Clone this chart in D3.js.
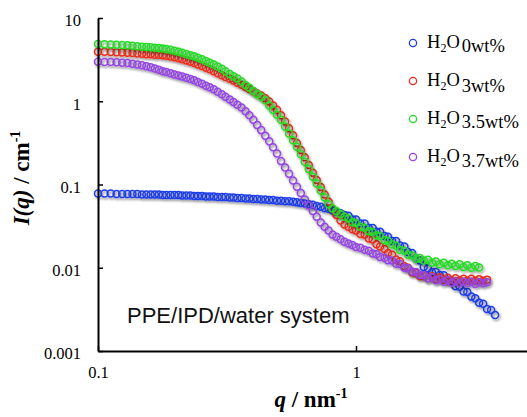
<!DOCTYPE html>
<html><head><meta charset="utf-8">
<script src="https://cdn.jsdelivr.net/npm/d3@7"></script>
<style>
html,body{margin:0;padding:0;background:#fff;}
svg{display:block;}
</style></head>
<body>
<svg id="chart" width="527" height="417"></svg>
<script>
// ---- data ----
const qValues = [
 0.100, 0.106, 0.112, 0.118, 0.124, 0.130, 0.136, 0.142, 0.148, 0.154,
 0.160, 0.166, 0.172, 0.178, 0.184, 0.191, 0.198, 0.205, 0.212, 0.220,
 0.228, 0.236, 0.244, 0.253, 0.262, 0.271, 0.281, 0.291, 0.302, 0.312,
 0.324, 0.335, 0.347, 0.360, 0.373, 0.386, 0.400, 0.414, 0.429, 0.445,
 0.461, 0.477, 0.494, 0.512, 0.531, 0.550, 0.570, 0.590, 0.611, 0.633,
 0.656, 0.680, 0.704, 0.730, 0.756, 0.783, 0.811, 0.840, 0.871, 0.902,
 0.935, 0.968, 1.00, 1.04, 1.08, 1.12, 1.16, 1.20, 1.24, 1.29,
 1.33, 1.38, 1.43, 1.48, 1.54, 1.59, 1.65, 1.71, 1.77, 1.83,
 1.90, 1.97, 2.04, 2.11, 2.19, 2.27, 2.35, 2.43, 2.52, 2.61,
 2.70, 2.80, 2.90, 3.00, 3.11, 3.22, 3.34, 3.46
];
const water0wt = [
 0.078, 0.078, 0.078, 0.077, 0.077, 0.077, 0.077, 0.077, 0.076, 0.076,
 0.076, 0.076, 0.076, 0.075, 0.075, 0.075, 0.075, 0.075, 0.074, 0.074,
 0.074, 0.073, 0.073, 0.073, 0.072, 0.072, 0.072, 0.071, 0.071, 0.071,
 0.070, 0.070, 0.069, 0.069, 0.068, 0.068, 0.067, 0.067, 0.066, 0.066,
 0.065, 0.065, 0.064, 0.064, 0.063, 0.063, 0.062, 0.061, 0.060, 0.059,
 0.058, 0.057, 0.055, 0.054, 0.052, 0.051, 0.049, 0.047, 0.045, 0.043,
 0.042, 0.038, 0.038, 0.034, 0.034, 0.030, 0.030, 0.027, 0.027, 0.024,
 0.0235, 0.021, 0.021, 0.0185, 0.018, 0.0155, 0.015, 0.0128, 0.0122, 0.0102,
 0.0098, 0.0088, 0.0089, 0.0082, 0.0081, 0.0071, 0.0069, 0.0060, 0.0059, 0.0052,
 0.0051, 0.0045, 0.0043, 0.0038, 0.0037, 0.0032, 0.0031, 0.0027
];
const water3wt = [
 3.94, 3.93, 3.91, 3.88, 3.85, 3.82, 3.79, 3.75, 3.71, 3.68,
 3.66, 3.63, 3.61, 3.58, 3.52, 3.45, 3.37, 3.28, 3.19, 3.09,
 2.98, 2.88, 2.77, 2.65, 2.53, 2.42, 2.29, 2.17, 2.05, 1.95,
 1.86, 1.77, 1.67, 1.58, 1.48, 1.40, 1.32, 1.24, 1.17, 1.09,
 0.99, 0.89, 0.79, 0.68, 0.57, 0.475, 0.39, 0.315, 0.26, 0.212,
 0.172, 0.138, 0.113, 0.093, 0.076, 0.062, 0.051, 0.043, 0.037, 0.033,
 0.031, 0.029, 0.0280, 0.0255, 0.0250, 0.0225, 0.0218, 0.0192, 0.0180, 0.0168,
 0.0150, 0.0143, 0.0126, 0.0120, 0.0104, 0.0100, 0.0088, 0.0087, 0.0079, 0.0080,
 0.0075, 0.0079, 0.0073, 0.0077, 0.0072, 0.0076, 0.0071, 0.0075, 0.0071, 0.0074,
 0.0070, 0.0074, 0.0070, 0.0073, 0.0070, 0.0072, null, null
];
const water35wt = [
 4.87, 4.85, 4.82, 4.78, 4.74, 4.70, 4.64, 4.58, 4.52, 4.48,
 4.44, 4.40, 4.35, 4.31, 4.24, 4.15, 4.05, 3.94, 3.83, 3.70,
 3.58, 3.46, 3.34, 3.19, 3.05, 2.91, 2.76, 2.61, 2.45, 2.30,
 2.12, 1.99, 1.87, 1.73, 1.57, 1.45, 1.33, 1.22, 1.13, 1.03,
 0.89, 0.785, 0.69, 0.60, 0.497, 0.411, 0.340, 0.284, 0.231, 0.188,
 0.153, 0.124, 0.103, 0.0845, 0.0698, 0.0578, 0.0514, 0.0477, 0.0442, 0.041,
 0.039, 0.0352, 0.0345, 0.0310, 0.0302, 0.0275, 0.0268, 0.0245, 0.0240, 0.0214,
 0.0210, 0.0190, 0.0184, 0.0163, 0.0160, 0.0143, 0.0140, 0.0128, 0.0131, 0.0122,
 0.0125, 0.0115, 0.0119, 0.0110, 0.0115, 0.0107, 0.0112, 0.0105, 0.0110, 0.0102,
 0.0107, 0.0100, 0.0105, 0.0101, null, null, null, null
];
const water37wt = [
 2.98, 2.97, 2.96, 2.94, 2.91, 2.88, 2.83, 2.77, 2.70, 2.63,
 2.56, 2.48, 2.39, 2.30, 2.24, 2.17, 2.10, 2.04, 1.98, 1.91,
 1.85, 1.79, 1.70, 1.62, 1.54, 1.47, 1.39, 1.30, 1.21, 1.13,
 1.05, 0.98, 0.91, 0.84, 0.76, 0.68, 0.60, 0.52, 0.45, 0.385,
 0.33, 0.28, 0.235, 0.192, 0.160, 0.135, 0.112, 0.094, 0.079, 0.066,
 0.056, 0.048, 0.041, 0.035, 0.031, 0.028, 0.025, 0.0235, 0.022, 0.0205,
 0.0195, 0.0187, 0.0178, 0.0174, 0.0164, 0.0160, 0.0148, 0.0145, 0.0135, 0.0132,
 0.0123, 0.0122, 0.0112, 0.0111, 0.0100, 0.0099, 0.0090, 0.0089, 0.0082, 0.0081,
 0.0075, 0.0077, 0.0071, 0.0073, 0.0068, 0.0071, 0.0066, 0.0069, 0.0065, 0.0068,
 0.0065, 0.0068, 0.0064, 0.0067, 0.0065, 0.0067, null, null
];
const seriesLabels = ["0wt%", "3wt%", "3.5wt%", "3.7wt%"];
const seriesColors = ["#1c3ce8", "#ea2e1c", "#22dc22", "#9444e2"];
const yTickValues = [0.001, 0.01, 0.1, 1, 10];
const yTickLabels = ["0.001", "0.01", "0.1", "1", "10"];
const xTickValues = [0.1, 1];
const xTickLabels = ["0.1", "1"];
const annotation = "PPE/IPD/water system";

// ---- drawing ----
const svg = d3.select("#chart");
const x = d3.scaleLog().domain([0.1, 10]).range([98, 614]);
const y = d3.scaleLog().domain([0.001, 10]).range([351, 18]);

const defs = svg.append("defs");
const f = defs.append("filter").attr("id", "sh")
  .attr("x", "-10%").attr("y", "-10%").attr("width", "120%").attr("height", "130%");
f.append("feDropShadow").attr("dx", 1.2).attr("dy", 1.8)
  .attr("stdDeviation", 1.1).attr("flood-color", "#000").attr("flood-opacity", 0.45);

const allSeries = [water0wt, water3wt, water35wt, water37wt];
allSeries.forEach((vals, si) => {
  const pts = qValues.map((q, i) => ({q, v: vals[i]})).filter(d => d.v != null);
  svg.append("g").attr("filter", "url(#sh)")
    .selectAll("circle").data(pts).join("circle")
    .attr("cx", d => x(d.q)).attr("cy", d => y(d.v)).attr("r", 3.5)
    .attr("fill", "none").attr("stroke", seriesColors[si]).attr("stroke-width", 1.5);
});

// axes
const yAxis = d3.axisLeft(y).tickValues(yTickValues)
  .tickFormat((d, i) => yTickLabels[i]).tickSizeInner(-5).tickSizeOuter(0).tickPadding(17);
const gy = svg.append("g").attr("transform", "translate(98,0)").call(yAxis);
const xAxis = d3.axisBottom(x).tickValues(xTickValues)
  .tickFormat((d, i) => xTickLabels[i]).tickSizeInner(-5).tickSizeOuter(0).tickPadding(15);
const gx = svg.append("g").attr("transform", "translate(0,351)").call(xAxis);

[gx, gy].forEach(g => {
  g.select(".domain").attr("stroke", "#000").attr("stroke-width", 2);
  g.selectAll(".tick line").attr("stroke", "#000").attr("stroke-width", 1.5);
  g.selectAll(".tick text").attr("fill", "#000")
    .attr("font-family", "'Liberation Serif', 'Times New Roman', serif").attr("font-size", 16.5);
});
gy.selectAll(".tick text").attr("dy", "0.48em");

// axis titles
const serif = "'Liberation Serif', 'Times New Roman', serif";
const yt = svg.append("text").attr("transform", "translate(29,178) rotate(-90)")
  .attr("text-anchor", "middle").attr("font-family", serif)
  .attr("font-size", 23).attr("font-weight", "bold").attr("fill", "#000");
yt.append("tspan").attr("font-style", "italic").text("I(q)");
yt.append("tspan").text(" / cm");
yt.append("tspan").attr("font-size", 14).attr("dy", -9).text("-1");

const xt = svg.append("text").attr("x", 311).attr("y", 407)
  .attr("text-anchor", "middle").attr("font-family", serif)
  .attr("font-size", 23).attr("font-weight", "bold").attr("fill", "#000");
xt.append("tspan").attr("font-style", "italic").text("q");
xt.append("tspan").text(" / nm");
xt.append("tspan").attr("font-size", 14).attr("dy", -9).text("-1");

// annotation
svg.append("text").attr("x", 127).attr("y", 323)
  .attr("font-family", "'Liberation Sans', Arial, sans-serif").attr("font-size", 22)
  .attr("fill", "#111").text(annotation);

// legend
const legendShift = [4, 6, 4, 5];
seriesLabels.forEach((lab, i) => {
  const cy = 43 + i * 38;
  svg.append("circle").attr("cx", 413).attr("cy", cy).attr("r", 3.6)
    .attr("fill", "none").attr("stroke", seriesColors[i]).attr("stroke-width", 1.3);
  const t = svg.append("text").attr("x", 427).attr("y", cy + 5)
    .attr("font-family", serif).attr("font-size", 18.5).attr("fill", "#000");
  t.append("tspan").text("H");
  t.append("tspan").attr("font-size", 12).attr("dy", 4).text("2");
  t.append("tspan").attr("dy", -4).text("O");
  t.append("tspan").attr("dx", 2).attr("dy", legendShift[i]).text(lab);
});
</script>
</body></html>
